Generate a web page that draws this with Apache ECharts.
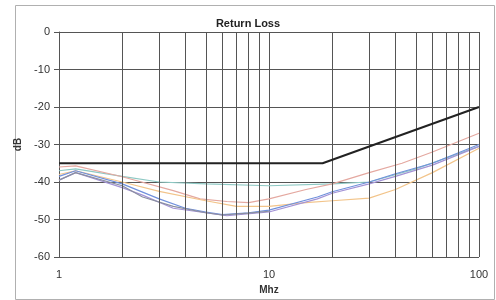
<!DOCTYPE html>
<html><head><meta charset="utf-8">
<script src="https://cdn.jsdelivr.net/npm/echarts@6/dist/echarts.min.js"></script>
<style>html,body{margin:0;padding:0;background:#fff}#c{width:496px;height:300px}</style>
</head><body><div id="c"></div>
<script>
var limitF = [1, 18, 100];
var limitDb = [-35, -35, -20];

var tealF  = [1, 1.2, 2, 3, 5, 10, 20, 30, 50, 100];
var tealDb = [-37, -36.5, -38.5, -40, -40.5, -41, -40.5, -40, -36.5, -30.5];

var salmonF  = [1, 1.2, 2, 3.5, 4.7, 6.3, 8, 10, 15, 20, 30, 43, 60, 100];
var salmonDb = [-36, -35.7, -38.6, -42.3, -44.5, -45.2, -45.5, -44.5, -42, -40.5, -37.5, -35, -32, -27];

var orangeF  = [1, 1.2, 2, 3, 5, 7, 10, 15, 20, 30, 40, 60, 100];
var orangeDb = [-38, -37, -40, -42.5, -45, -46.5, -46.5, -45.5, -45, -44.3, -42, -37.5, -31];

var blueF  = [1, 1.2, 2, 3, 4, 5, 6, 8, 10, 17, 20, 30, 40, 60, 100];
var blueDb = [-38.5, -37, -40.5, -44.5, -47, -48, -48.7, -48.2, -47.5, -44, -42.6, -40, -37.8, -35, -30];

var purpleF  = [1, 1.2, 2, 2.5, 3.5, 4.7, 6.3, 10, 17, 20, 30, 40, 60, 100];
var purpleDb = [-39.5, -37.5, -41.5, -43.5, -47, -48, -49, -48, -44.5, -43, -40.5, -38.5, -35.5, -30.5];

var grayF  = [1, 1.2, 2, 2.5, 3.5, 5, 6, 8, 10];
var grayDb = [-39.5, -37.5, -41, -44, -46.5, -48.2, -48.8, -48.3, -47.8];

var xTicks = [1, 10, 100];
var minorGrid = [2, 3, 4, 5, 6, 7, 8, 9, 20, 30, 40, 50, 60, 70, 80, 90];

function pairs(f, d) { return f.map(function (v, i) { return [v, d[i]]; }); }
function line(name, f, d, color, w) {
  return { name: name, type: 'line', data: pairs(f, d), showSymbol: false, symbol: 'none',
    lineStyle: { color: color, width: w }, z: w > 1.5 ? 5 : 3, animation: false };
}

var chart = echarts.init(document.getElementById('c'), null, { renderer: 'canvas' });
var series = [
  line('teal', tealF, tealDb, '#8ec9c4', 1.2),
  line('salmon', salmonF, salmonDb, '#e4a8a0', 1.2),
  line('orange', orangeF, orangeDb, '#f2c48a', 1.2),
  line('blue', blueF, blueDb, '#7090dc', 1.2),
  line('purple', purpleF, purpleDb, '#a393d6', 1.2),
  line('gray', grayF, grayDb, '#8a8fa0', 1.2),
  line('limit', limitF, limitDb, '#222222', 2)
];
series[0].markLine = {
  silent: true, symbol: 'none', label: { show: false },
  lineStyle: { color: '#555', width: 1, type: 'solid' },
  data: minorGrid.map(function (v) { return { xAxis: v }; }),
  animation: false
};

chart.setOption({
  animation: false,
  backgroundColor: '#fff',
  graphic: [{ type: 'rect', left: 13, top: 3, shape: { width: 479, height: 294 },
    style: { fill: 'none', stroke: '#b0b0b0', lineWidth: 1 }, z: -1 }],
  title: { text: 'Return Loss', left: 'center', top: 13,
    textStyle: { fontFamily: 'Liberation Sans', fontSize: 11, fontWeight: 'bold', color: '#222' } },
  grid: { left: 59, right: 17, top: 32, bottom: 43 },
  xAxis: {
    type: 'log', logBase: 10, min: 1, max: 100,
    name: 'Mhz', nameLocation: 'middle', nameGap: 22,
    nameTextStyle: { fontFamily: 'Liberation Sans', fontSize: 10, fontWeight: 'bold', color: '#333' },
    axisLine: { show: true, lineStyle: { color: '#555' } },
    axisTick: { show: true, length: 3, lineStyle: { color: '#555' } },
    axisLabel: { fontFamily: 'Liberation Sans', fontSize: 11, color: '#333', margin: 12,
      customValues: xTicks, formatter: function (v) { return String(v); } },
    splitLine: { show: true, lineStyle: { color: '#555', width: 1 } }
  },
  yAxis: {
    type: 'value', min: -60, max: 0, interval: 10,
    name: 'dB', nameLocation: 'middle', nameGap: 35, nameRotate: 90,
    nameTextStyle: { fontFamily: 'Liberation Sans', fontSize: 10, fontWeight: 'bold', color: '#333' },
    axisLine: { show: true, lineStyle: { color: '#555' } },
    axisTick: { show: true, length: 5, lineStyle: { color: '#555' } },
    axisLabel: { fontFamily: 'Liberation Sans', fontSize: 11, color: '#333', margin: 9 },
    splitLine: { show: true, lineStyle: { color: '#555', width: 1 } }
  },
  series: series
});
</script></body></html>
